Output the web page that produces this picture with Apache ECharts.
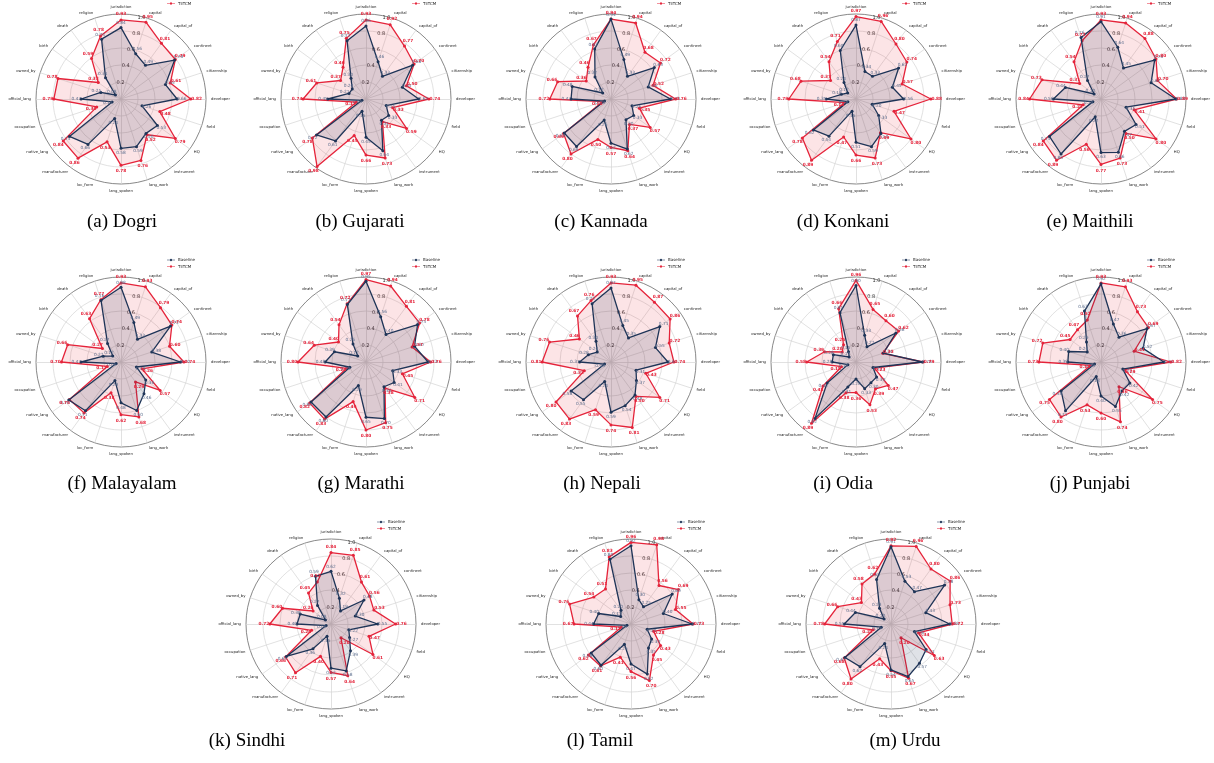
<!DOCTYPE html>
<html><head><meta charset="utf-8">
<script src="https://cdn.jsdelivr.net/npm/echarts@6/dist/echarts.min.js"></script>
<style>html,body{margin:0;padding:0;background:#fff}#c{width:1214px;height:763px}</style>
</head><body><div id="c"></div>
<script>
// ---------------- DATA ----------------
const axisNames = ['jurisdiction','capital','capital_of','continent','citizenship','developer','field','HQ','instrument','lang_work','lang_spoken','loc_form','manufacturer','native_lang','occupation','official_lang','owned_by','birth','death','religion'];
const seriesNames = ['Baseline', 'TIiTCM'];
const tickValues = [0, 0.2, 0.4, 0.6, 0.8, 1.0];
const captions = ['(a) Dogri','(b) Gujarati','(c) Kannada','(d) Konkani','(e) Maithili','(f) Malayalam','(g) Marathi','(h) Nepali','(i) Odia','(j) Punjabi','(k) Sindhi','(l) Tamil','(m) Urdu'];

const dogriBaseline     = [0.84,0.56,0.49,0.78,0.55,0.66,0.26,0.53,0.50,0.59,0.58,0.24,0.66,0.75,0.11,0.47,0.25,0.08,0.31,0.74];
const dogriTIiTCM       = [0.93,0.95,0.81,0.79,0.61,0.82,0.48,0.79,0.52,0.76,0.78,0.53,0.86,0.84,0.30,0.79,0.78,0.33,0.59,0.78];
const gujaratiBaseline  = [0.86,0.46,0.33,0.68,0.45,0.62,0.25,0.33,0.31,0.64,0.45,0.15,0.61,0.72,0.05,0.45,0.21,0.20,0.30,0.72];
const gujaratiTIiTCM    = [0.93,0.92,0.77,0.70,0.50,0.74,0.33,0.59,0.33,0.73,0.66,0.45,0.98,0.78,0.12,0.74,0.61,0.37,0.46,0.75];
const kannadaBaseline   = [0.94,0.49,0.33,0.63,0.46,0.70,0.26,0.33,0.30,0.62,0.52,0.26,0.69,0.68,0.08,0.47,0.48,0.12,0.32,0.62];
const kannadaTIiTCM     = [0.94,0.94,0.68,0.72,0.52,0.76,0.35,0.57,0.37,0.64,0.57,0.50,0.80,0.69,0.10,0.72,0.66,0.36,0.46,0.67];
const konkaniBaseline   = [0.87,0.34,0.33,0.62,0.45,0.56,0.20,0.33,0.50,0.59,0.51,0.15,0.54,0.62,0.10,0.35,0.18,0.12,0.24,0.60];
const konkaniTIiTCM     = [0.97,0.96,0.80,0.74,0.57,0.88,0.47,0.80,0.49,0.73,0.66,0.47,0.89,0.78,0.14,0.79,0.68,0.37,0.54,0.71];
const maithiliBaseline  = [0.91,0.64,0.45,0.78,0.62,0.88,0.31,0.51,0.47,0.66,0.63,0.22,0.80,0.75,0.10,0.56,0.44,0.10,0.27,0.76];
const maithiliTIiTCM    = [0.93,0.94,0.88,0.80,0.70,0.89,0.41,0.80,0.50,0.73,0.77,0.56,0.89,0.84,0.22,0.84,0.73,0.31,0.54,0.72];
const malayalamBaseline = [0.88,0.49,0.33,0.72,0.38,0.70,0.19,0.36,0.46,0.60,0.48,0.23,0.71,0.76,0.06,0.47,0.22,0.12,0.27,0.76];
const malayalamTIiTCM   = [0.93,0.93,0.79,0.74,0.60,0.74,0.26,0.57,0.29,0.68,0.62,0.38,0.74,0.75,0.17,0.70,0.66,0.27,0.63,0.77];
const marathiBaseline   = [0.95,0.56,0.40,0.75,0.60,0.73,0.33,0.41,0.36,0.70,0.65,0.29,0.80,0.80,0.20,0.48,0.39,0.12,0.26,0.71];
const marathiTIiTCM     = [0.97,0.94,0.81,0.78,0.57,0.76,0.45,0.71,0.38,0.75,0.80,0.49,0.83,0.82,0.24,0.80,0.64,0.40,0.54,0.72];
const nepaliBaseline    = [0.87,0.45,0.35,0.71,0.55,0.67,0.31,0.37,0.48,0.54,0.59,0.24,0.55,0.58,0.08,0.37,0.28,0.20,0.30,0.72];
const nepaliTIiTCM      = [0.93,0.95,0.87,0.86,0.72,0.74,0.43,0.71,0.50,0.81,0.74,0.59,0.83,0.80,0.33,0.81,0.76,0.46,0.67,0.76];
const odiaBaseline      = [0.90,0.33,0.22,0.58,0.34,0.78,0.21,0.30,0.30,0.33,0.20,0.31,0.82,0.42,0.10,0.28,0.28,0.10,0.15,0.61];
const odiaTIiTCM        = [0.96,0.65,0.60,0.62,0.33,0.79,0.23,0.47,0.39,0.53,0.36,0.38,0.89,0.48,0.18,0.58,0.39,0.20,0.25,0.66];
const punjabiBaseline   = [0.92,0.47,0.36,0.67,0.52,0.74,0.27,0.42,0.42,0.55,0.40,0.18,0.71,0.58,0.08,0.39,0.40,0.20,0.29,0.63];
const punjabiTIiTCM     = [0.93,0.93,0.73,0.69,0.41,0.82,0.29,0.75,0.36,0.74,0.60,0.53,0.80,0.75,0.13,0.73,0.72,0.45,0.47,0.52];
const sindhiBaseline    = [0.62,0.32,0.19,0.48,0.30,0.55,0.22,0.27,0.39,0.58,0.52,0.15,0.36,0.65,0.06,0.40,0.38,0.08,0.27,0.59];
const sindhiTIiTCM      = [0.84,0.85,0.61,0.56,0.53,0.76,0.47,0.61,0.20,0.64,0.57,0.40,0.71,0.66,0.24,0.72,0.60,0.26,0.45,0.52];
const tamilBaseline     = [0.92,0.30,0.25,0.60,0.40,0.72,0.20,0.30,0.35,0.62,0.47,0.25,0.60,0.58,0.05,0.44,0.40,0.15,0.20,0.80];
const tamilTIiTCM       = [0.96,0.98,0.56,0.69,0.55,0.73,0.28,0.43,0.45,0.70,0.56,0.41,0.61,0.62,0.12,0.67,0.76,0.54,0.51,0.83];
const urduBaseline      = [0.91,0.53,0.47,0.78,0.43,0.69,0.29,0.51,0.57,0.65,0.54,0.24,0.62,0.67,0.12,0.55,0.44,0.10,0.23,0.55];
const urduTIiTCM        = [0.92,0.96,0.80,0.86,0.73,0.72,0.34,0.63,0.20,0.67,0.55,0.43,0.80,0.68,0.22,0.78,0.66,0.43,0.58,0.62];

const panels = [
  [dogriBaseline, dogriTIiTCM], [gujaratiBaseline, gujaratiTIiTCM], [kannadaBaseline, kannadaTIiTCM],
  [konkaniBaseline, konkaniTIiTCM], [maithiliBaseline, maithiliTIiTCM], [malayalamBaseline, malayalamTIiTCM],
  [marathiBaseline, marathiTIiTCM], [nepaliBaseline, nepaliTIiTCM], [odiaBaseline, odiaTIiTCM],
  [punjabiBaseline, punjabiTIiTCM], [sindhiBaseline, sindhiTIiTCM], [tamilBaseline, tamilTIiTCM],
  [urduBaseline, urduTIiTCM]
];

// ---------------- LAYOUT / STYLE ----------------
const centers = [[121,99],[366,99],[611,99],[856,99],[1101,99],
                 [121,362],[366,362],[611,362],[856,362],[1101,362],
                 [331,624],[631,624],[891,624]];
const captionPos = [[122,222],[360,222],[601,222],[843,222],[1090,222],
                    [122,484],[361,484],[602,484],[843,484],[1090,484],
                    [247,741],[600,741],[905,741]];
const R = 85;
const NAVY = '#1f3558';
const RED = '#e5243b';
const OFF_B = 0.055, OFF_T = 0.07;
const ICON = 'path://M0,4.5h7.5a2.5,2.5 0 1 1 5,0h7.5v1h-7.5a2.5,2.5 0 1 1 -5,0h-7.5z';

const ecOrder = axisNames.map((_, i) => i === 0 ? 0 : axisNames.length - i);
const reorder = arr => ecOrder.map(i => arr[i]);
const fmt = (vals, off) => p => Array.isArray(p.value)
    ? vals[p.dimensionIndex].toFixed(2)
    : (p.value - off).toFixed(2);

const radar = [], series = [], legend = [], graphic = [];
panels.forEach((pair, k) => {
  const [cx, cy] = centers[k];
  const b = reorder(pair[0]), t = reorder(pair[1]);
  radar.push({
    center: [cx, cy], radius: R, startAngle: 90, shape: 'circle', splitNumber: 5,
    nameGap: 5,
    axisName: {color: '#222', fontSize: 3.8, fontFamily: 'DejaVu Sans'},
    indicator: ecOrder.map(i => ({
      name: axisNames[i], min: tickValues[0], max: tickValues[tickValues.length - 1],
      axisLabel: {show: i === 1}
    })),
    axisLine: {lineStyle: {color: '#d4d4d4', width: 0.7}},
    splitLine: {lineStyle: {color: ['#d4d4d4','#d4d4d4','#d4d4d4','#d4d4d4','#d4d4d4','#555'], width: 0.7}},
    splitArea: {show: false},
    axisTick: {show: false},
    axisLabel: {show: false, fontSize: 5, color: '#333', margin: 2, fontFamily: 'DejaVu Sans',
      formatter: v => v === 0 ? '' : Number(v).toFixed(1)}
  });
  series.push({
    type: 'radar', radarIndex: k, name: seriesNames[0], z: 3, silent: true,
    symbol: 'circle', symbolSize: 3,
    lineStyle: {color: NAVY, width: 1.3}, itemStyle: {color: NAVY},
    areaStyle: {color: 'rgba(31,53,88,0.2)'},
    data: [{value: b}]
  });
  series.push({
    type: 'radar', radarIndex: k, name: seriesNames[1], z: 2, silent: true,
    symbol: 'circle', symbolSize: 3,
    lineStyle: {color: RED, width: 1.3}, itemStyle: {color: RED},
    areaStyle: {color: 'rgba(229,36,59,0.18)'},
    data: [{value: t}]
  });
  series.push({
    type: 'radar', radarIndex: k, name: 'lblB' + k, z: 6, silent: true,
    symbol: 'circle', symbolSize: 1, itemStyle: {color: 'rgba(0,0,0,0)'},
    lineStyle: {opacity: 0, width: 0},
    label: {show: true, position: 'inside', color: '#5a6c8c', fontSize: 4.3, fontFamily: 'DejaVu Sans',
      formatter: fmt(b, OFF_B)},
    data: [{value: b.map(v => v + OFF_B)}]
  });
  series.push({
    type: 'radar', radarIndex: k, name: 'lblT' + k, z: 6, silent: true,
    symbol: 'circle', symbolSize: 1, itemStyle: {color: 'rgba(0,0,0,0)'},
    lineStyle: {opacity: 0, width: 0},
    label: {show: true, position: 'inside', color: RED, fontSize: 4.3, fontWeight: 'bold', fontFamily: 'DejaVu Sans',
      formatter: fmt(t, OFF_T)},
    data: [{value: t.map(v => v + OFF_T)}]
  });
  legend.push({
    data: [{name: seriesNames[0], icon: ICON}, {name: seriesNames[1], icon: ICON}],
    orient: 'vertical', left: cx + 46, top: cy - 104, itemWidth: 8, itemHeight: 3, itemGap: 2.5,
    padding: 0, selectedMode: false,
    textStyle: {fontSize: 4, color: '#222', fontFamily: 'DejaVu Sans', padding: [0, 0, 0, -2]}
  });
  graphic.push({
    type: 'text', x: captionPos[k][0], y: captionPos[k][1], silent: true,
    style: {text: captions[k], fontSize: 19, fontFamily: 'Liberation Serif', fill: '#000',
      align: 'center', verticalAlign: 'middle', textAlign: 'center', textVerticalAlign: 'middle'}
  });
});

const chart = echarts.init(document.getElementById('c'), null, {renderer: 'canvas'});
chart.setOption({animation: false, backgroundColor: '#fff', radar, series, legend, graphic});
</script></body></html>
